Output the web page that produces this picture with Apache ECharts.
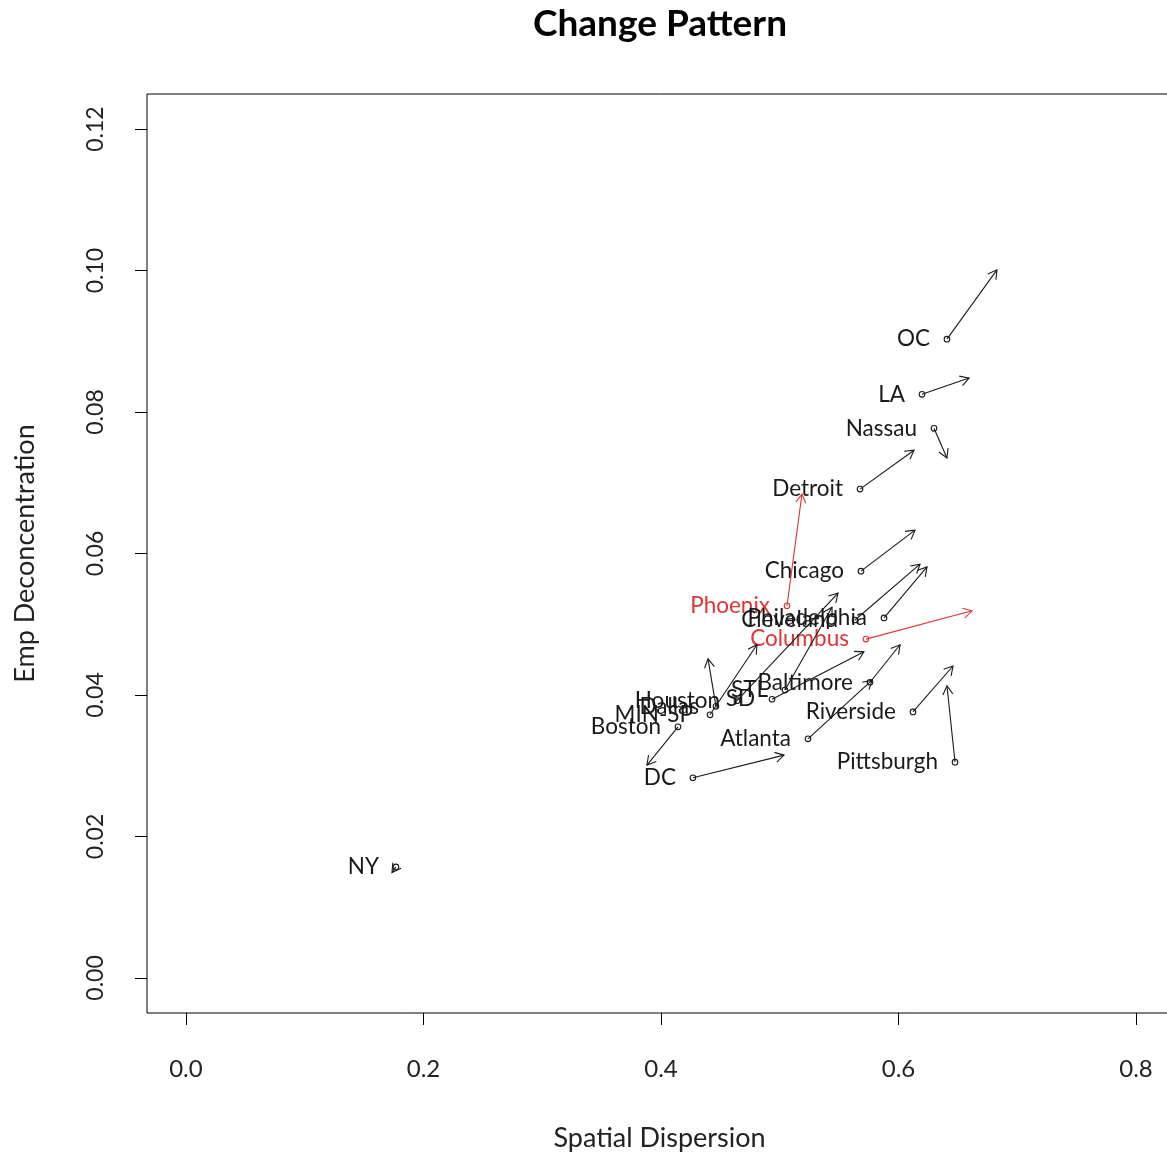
<!DOCTYPE html>
<html>
<head>
<meta charset="utf-8">
<script src="https://cdn.jsdelivr.net/npm/echarts@6/dist/echarts.min.js"></script>
<style>
  html, body { margin: 0; padding: 0; background: #fff; overflow: hidden; }
  /* canvas runs a few pixels past the window so the plot box's right edge is cut off */
  #chart { width: 1175px; height: 1160px; }
</style>
</head>
<body>
<div id="chart"></div>
<script>
// Metro areas: spatial dispersion vs. employment deconcentration,
// arrow from the earlier value (circle) to the later value (arrowhead).
const cities = ['OC', 'LA', 'Nassau', 'Detroit', 'Chicago', 'Phoenix', 'Philadelphia', 'Cleveland',
  'Columbus', 'Baltimore', 'STL', 'SD', 'Houston', 'Dallas', 'MIN-SP', 'Boston', 'Atlanta',
  'Riverside', 'Pittsburgh', 'DC', 'NY'];
const startX = [0.6408, 0.6198, 0.6299, 0.5676, 0.5684, 0.5061, 0.5878, 0.5634,
  0.5726, 0.5760, 0.5044, 0.4935, 0.4640, 0.4463, 0.4413, 0.4143, 0.5238,
  0.6122, 0.6476, 0.4269, 0.1768];
const startY = [0.0903, 0.0825, 0.0777, 0.0691, 0.0575, 0.0526, 0.0509, 0.0506,
  0.0479, 0.0418, 0.0407, 0.0394, 0.0392, 0.0384, 0.0372, 0.0355, 0.0338,
  0.0376, 0.0305, 0.0283, 0.0157];
const endX = [0.6829, 0.6594, 0.6408, 0.6131, 0.6139, 0.5187, 0.6240, 0.6181,
  0.6619, 0.6013, 0.5440, 0.5709, 0.5491, 0.4396, 0.4808, 0.3882, 0.5777,
  0.6459, 0.6408, 0.5036, 0.1735];
const endY = [0.1001, 0.0848, 0.0735, 0.0746, 0.0633, 0.0684, 0.0581, 0.0585,
  0.0519, 0.0471, 0.0524, 0.0461, 0.0544, 0.0451, 0.0471, 0.0301, 0.0421,
  0.0441, 0.0413, 0.0315, 0.0149];
const highlighted = ['Phoenix', 'Columbus'];
const xTicks = [0, 0.2, 0.4, 0.6, 0.8];
const yTicks = [0, 0.02, 0.04, 0.06, 0.08, 0.10, 0.12];

const INK = '#1a1a1a';
const RED = '#dd3636';
const FONT = 'Lato, "Open Sans", sans-serif';

const rows = cities.map((c, i) => [startX[i], startY[i], endX[i], endY[i]]);

function renderArrow(params, api) {
  const i = params.dataIndex;
  const p0 = api.coord([api.value(0), api.value(1)]);
  const p1 = api.coord([api.value(2), api.value(3)]);
  const color = highlighted.includes(cities[i]) ? RED : INK;
  const ang = Math.atan2(p1[1] - p0[1], p1[0] - p0[0]);
  const L = 10, a = Math.PI / 6;
  const h1 = [p1[0] - L * Math.cos(ang - a), p1[1] - L * Math.sin(ang - a)];
  const h2 = [p1[0] - L * Math.cos(ang + a), p1[1] - L * Math.sin(ang + a)];
  return {
    type: 'group',
    children: [
      { type: 'line', shape: { x1: p0[0], y1: p0[1], x2: p1[0], y2: p1[1] },
        style: { stroke: color, lineWidth: 1.1 } },
      { type: 'polyline', shape: { points: [h1, p1, h2] },
        style: { stroke: color, lineWidth: 1.1, fill: null } },
      { type: 'circle', shape: { cx: p0[0], cy: p0[1], r: 2.8 },
        style: { stroke: color, lineWidth: 1.1, fill: null } },
      { type: 'text', x: p0[0] - 17, y: p0[1],
        style: { text: cities[i], fill: color, font: '22.5px ' + FONT,
                 align: 'right', verticalAlign: 'middle',
                 textAlign: 'right', textVerticalAlign: 'middle' } }
    ]
  };
}

const chart = echarts.init(document.getElementById('chart'), null, { renderer: 'canvas' });
chart.setOption({
  animation: false,
  backgroundColor: '#fff',
  graphic: [{
    type: 'text', x: 660, y: 24,
    style: { text: 'Change Pattern', fill: '#000', font: 'bold 37px ' + FONT,
             align: 'center', verticalAlign: 'middle',
             textAlign: 'center', textVerticalAlign: 'middle' }
  }],
  grid: { left: 147, top: 94, width: 1025, bottom: 147, show: true,
          borderColor: '#000', borderWidth: 1, backgroundColor: 'transparent' },
  xAxis: {
    type: 'value', min: -0.0328, max: 0.8303,
    name: 'Spatial Dispersion', nameLocation: 'middle', nameGap: 112,
    nameTextStyle: { fontFamily: FONT, fontSize: 27, color: '#222' },
    axisLine: { show: false, onZero: false },
    splitLine: { show: false },
    axisTick: { show: true, length: 12, customValues: xTicks, lineStyle: { color: '#000' } },
    axisLabel: { customValues: xTicks, margin: 44, fontFamily: FONT, fontSize: 24, color: '#222',
                 formatter: v => v.toFixed(1) }
  },
  yAxis: {
    type: 'value', min: -0.00495, max: 0.12495,
    name: 'Emp Deconcentration', nameLocation: 'middle', nameGap: 108,
    nameTextStyle: { fontFamily: FONT, fontSize: 27, color: '#222' },
    axisLine: { show: false, onZero: false },
    splitLine: { show: false },
    axisTick: { show: true, length: 12, customValues: yTicks, lineStyle: { color: '#000' } },
    axisLabel: { customValues: yTicks, margin: 40, rotate: 90, fontFamily: FONT, fontSize: 23,
                 color: '#222', formatter: v => v.toFixed(2) }
  },
  series: [{
    type: 'custom',
    renderItem: renderArrow,
    encode: { x: [0, 2], y: [1, 3] },
    data: rows,
    clip: false
  }]
});
</script>
</body>
</html>
